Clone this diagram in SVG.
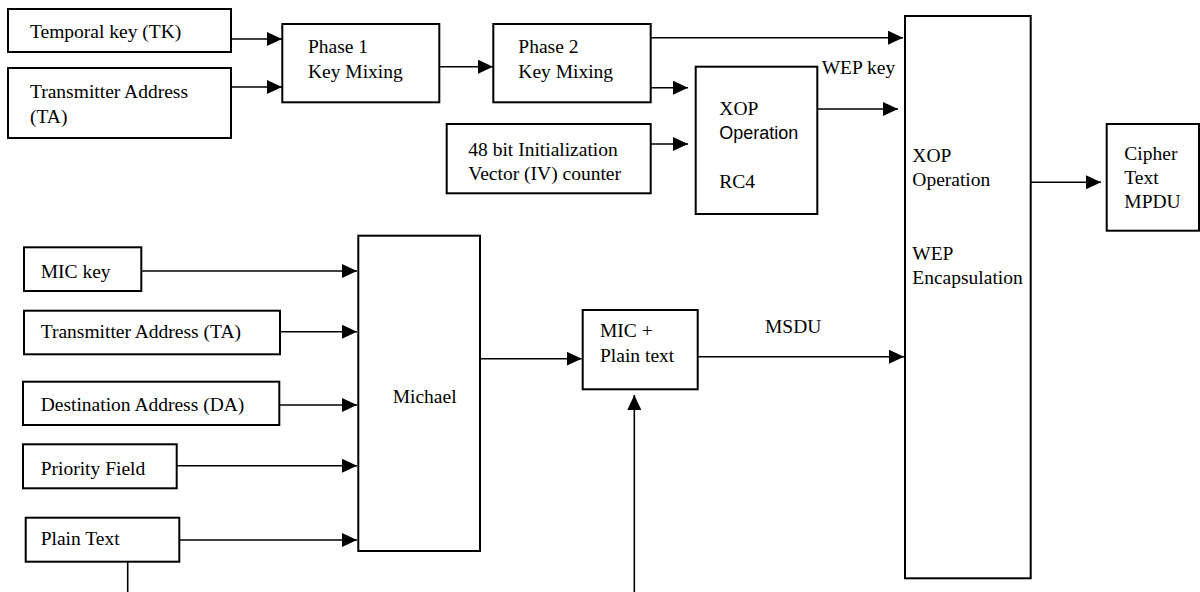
<svg xmlns="http://www.w3.org/2000/svg" width="1200" height="592" viewBox="0 0 1200 592">
<style>
.box{fill:#fff;stroke:#000;stroke-width:2}
.t{font-family:"Liberation Serif","Times New Roman",serif;font-size:19.5px;fill:#000}
.s{font-family:"Liberation Sans",Arial,sans-serif;font-size:18px;fill:#000}
.c{stroke:#000;stroke-width:1.6;fill:none}
.a{marker-end:url(#ah)}
</style>
<defs>
<marker id="ah" viewBox="0 0 15 14" refX="15" refY="7" markerWidth="15" markerHeight="14" markerUnits="userSpaceOnUse" orient="auto">
<path d="M0,0 L15,7 L0,14 Z" fill="#000"/>
</marker>
</defs>
<rect width="1200" height="592" fill="#fff"/>

<g id="connectors">
<line class="c a" x1="231" y1="39" x2="282" y2="39"/>
<line class="c a" x1="231" y1="87" x2="282" y2="87"/>
<line class="c a" x1="439" y1="66.7" x2="493" y2="66.7"/>
<line class="c a" x1="651" y1="37.7" x2="903" y2="37.7"/>
<line class="c a" x1="651" y1="87.7" x2="688" y2="87.7"/>
<line class="c a" x1="651" y1="144" x2="688" y2="144"/>
<line class="c a" x1="817" y1="109" x2="898" y2="109"/>
<line class="c a" x1="1031" y1="182.3" x2="1101" y2="182.3"/>
<line class="c a" x1="141" y1="271" x2="357" y2="271"/>
<line class="c a" x1="280" y1="331.7" x2="357" y2="331.7"/>
<line class="c a" x1="279" y1="405" x2="357" y2="405"/>
<line class="c a" x1="177" y1="465.7" x2="357" y2="465.7"/>
<line class="c a" x1="179" y1="540" x2="357" y2="540"/>
<line class="c" x1="127.7" y1="562" x2="127.7" y2="592"/>
<line class="c a" x1="480" y1="358.7" x2="581.7" y2="358.7"/>
<line class="c a" x1="698" y1="356.7" x2="904" y2="356.7"/>
<line class="c a" x1="634.3" y1="592" x2="634.3" y2="395"/>
<text class="t" x="821.7" y="74">WEP key</text>
<text class="t" x="765" y="332.7">MSDU</text>
</g>

<g id="tk"><rect class="box" x="8" y="9" width="223" height="43"/><text class="t" x="30" y="38">Temporal key (TK)</text></g>
<g id="ta1"><rect class="box" x="8" y="68" width="223" height="70"/><text class="t" x="30" y="97.7">Transmitter Address</text><text class="t" x="30" y="122.7">(TA)</text></g>
<g id="phase1"><rect class="box" x="282.3" y="24" width="157" height="78.3"/><text class="t" x="308" y="53.3">Phase 1</text><text class="t" x="308" y="78.3">Key Mixing</text></g>
<g id="phase2"><rect class="box" x="493.3" y="24" width="157.4" height="78.3"/><text class="t" x="518.3" y="53.3">Phase 2</text><text class="t" x="518.3" y="78.3">Key Mixing</text></g>
<g id="iv"><rect class="box" x="446.7" y="124" width="204" height="69.3"/><text class="t" x="468.3" y="156">48 bit Initialization</text><text class="t" x="468.3" y="180">Vector (IV) counter</text></g>
<g id="rc4"><rect class="box" x="695.7" y="66.7" width="121.6" height="147.3"/><text class="t" x="719.3" y="115">XOP</text><text class="s" x="719.3" y="139.3">Operation</text><text class="t" x="719.3" y="188.3">RC4</text></g>
<g id="wep"><rect class="box" x="905" y="16" width="125.7" height="562.3"/><text class="t" x="912.3" y="162.3">XOP</text><text class="t" x="912.3" y="185.7">Operation</text><text class="t" x="912.3" y="260">WEP</text><text class="t" x="912.3" y="284">Encapsulation</text></g>
<g id="cipher"><rect class="box" x="1106.7" y="124" width="92.3" height="106.7"/><text class="t" x="1124.3" y="160">Cipher</text><text class="t" x="1124.3" y="184.3">Text</text><text class="t" x="1124.3" y="208.3">MPDU</text></g>
<g id="mickey"><rect class="box" x="24" y="247.3" width="117.3" height="43.7"/><text class="t" x="40.7" y="278.3">MIC key</text></g>
<g id="ta2"><rect class="box" x="24" y="310.7" width="256" height="43.6"/><text class="t" x="40.7" y="338.3">Transmitter Address (TA)</text></g>
<g id="da"><rect class="box" x="23" y="381.7" width="256.3" height="43.3"/><text class="t" x="40.7" y="411">Destination Address (DA)</text></g>
<g id="priority"><rect class="box" x="23" y="444.3" width="153.7" height="44"/><text class="t" x="40.7" y="475">Priority Field</text></g>
<g id="plaintext"><rect class="box" x="25.7" y="517.7" width="153.6" height="44"/><text class="t" x="40.7" y="545">Plain Text</text></g>
<g id="michael"><rect class="box" x="358.3" y="235.7" width="121.7" height="315.3"/><text class="t" x="392.7" y="403.3">Michael</text></g>
<g id="mic"><rect class="box" x="582.7" y="310" width="115" height="79.3"/><text class="t" x="600" y="337.3">MIC +</text><text class="t" x="600" y="361.7">Plain text</text></g>
</svg>
